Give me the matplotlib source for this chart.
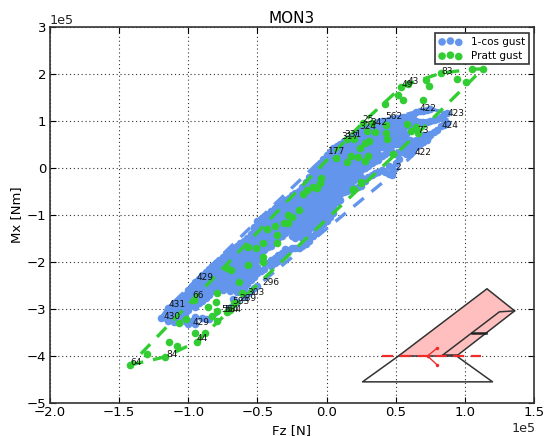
import matplotlib
matplotlib.use("Agg")
import matplotlib.pyplot as plt
from matplotlib.ticker import MultipleLocator

SCALE = 1e5
title = "MON3"
xlabel = "Fz [N]"
ylabel = "Mx [Nm]"
offset_label = "1e5"
series_names = ["1-cos gust", "Pratt gust"]

blue_columns = [
 (-1.20,[-3.2]),
 (-1.15,[-2.98,-3.13,-3.25]),
 (-1.10,[-2.88,-3.02,-3.16,-3.28]),
 (-1.05,[-2.8,-2.95,-3.08,-3.22]),
 (-1.00,[-2.6,-2.75,-2.9,-3.02,-3.32]),
 (-0.95,[-2.42,-2.56,-2.7,-2.84,-2.95,-3.18,-3.32]),
 (-0.90,[-2.28,-2.42,-2.56,-2.7,-2.82,-3.2]),
 (-0.85,[-2.15,-2.3,-2.44,-2.58,-2.7,-3.22]),
 (-0.80,[-2.02,-2.16,-2.3,-2.44,-2.58]),
 (-0.75,[-1.9,-2.04,-2.18,-2.32,-2.46,-2.6]),
 (-0.70,[-1.78,-1.92,-2.06,-2.2,-2.34,-2.48,-2.62]),
 (-0.65,[-1.66,-1.8,-1.94,-2.08,-2.22,-2.36,-2.5,-2.64,-2.85]),
 (-0.60,[-1.55,-1.69,-1.83,-1.97,-2.11,-2.25,-2.39,-2.55,-2.75]),
 (-0.55,[-1.4,-1.54,-1.68,-1.82,-1.96,-2.1,-2.24,-2.38,-2.62]),
 (-0.50,[-1.12,-1.26,-1.4,-1.54,-1.68,-1.82,-1.96,-2.1,-2.24,-2.5]),
 (-0.45,[-1.05,-1.19,-1.33,-1.47,-1.61,-1.75,-2.0,-2.15]),
 (-0.40,[-0.92,-1.06,-1.2,-1.34,-1.48,-1.65,-1.95,-2.08]),
 (-0.35,[-0.8,-0.94,-1.08,-1.22,-1.36,-1.5,-1.85,-1.98]),
 (-0.30,[-0.68,-0.82,-0.96,-1.1,-1.24,-1.38,-1.72,-1.85]),
 (-0.25,[-0.58,-0.72,-0.86,-1.0,-1.14,-1.28,-1.45,-1.7]),
 (-0.20,[-0.48,-0.62,-0.76,-0.9,-1.04,-1.18,-1.3,-1.7]),
 (-0.15,[-0.3,-0.44,-0.58,-0.72,-0.86,-1.0,-1.14,-1.25,-1.62]),
 (-0.10,[-0.1,-0.24,-0.38,-0.52,-0.66,-0.8,-0.92,-1.0,-1.45]),
 (-0.05,[0.1,-0.04,-0.18,-0.32,-0.46,-0.6,-0.74,-0.9,-1.3]),
 (0.00,[0.28,0.14,0.0,-0.14,-0.28,-0.42,-0.56,-0.75,-1.12]),
 (0.05,[0.42,0.28,0.14,0.0,-0.14,-0.28,-0.42,-0.55,-0.65,-0.95]),
 (0.10,[0.52,0.38,0.24,0.1,-0.04,-0.18,-0.32,-0.46,-0.55]),
 (0.15,[0.62,0.48,0.34,0.2,0.06,-0.08,-0.22,-0.36,-0.48]),
 (0.20,[0.72,0.58,0.44,0.3,0.16,0.02,-0.12,-0.26,-0.42]),
 (0.25,[0.8,0.66,0.52,0.38,0.24,0.1,-0.05,-0.2,-0.38]),
 (0.30,[0.88,0.74,0.6,0.46,0.32,0.18,0.05,-0.2]),
 (0.35,[0.95,0.81,0.67,0.53,0.39,0.27,0.15,-0.1]),
 (0.40,[1.0,0.86,0.72,0.58,0.44,0.25,-0.05]),
 (0.45,[1.02,0.88,0.74,0.6,0.46,0.35,0.05,-0.12]),
 (0.50,[1.06,0.92,0.78,0.64,0.5,0.3,0.1]),
 (0.55,[1.08,0.95,0.8,0.65,0.5,0.35]),
 (0.60,[1.08,0.92,0.6,0.45,0.3]),
 (0.65,[1.2,1.0,0.85,0.6,0.45]),
 (0.70,[1.22,0.98,0.7,0.55]),
 (0.75,[1.26,1.0,0.72]),
 (0.80,[1.05,0.8]),
 (0.85,[1.15,1.02,0.92]),
 (0.87,[1.17,0.96]),
]
blue_columns_between = [
 (-1.125,[-2.95,-3.09,-3.22]),
 (-1.075,[-2.85,-2.99,-3.12,-3.25]),
 (-1.025,[-2.7,-2.84,-2.97,-3.1]),
 (-0.975,[-2.5,-2.64,-2.78,-2.92,-3.25]),
 (-0.925,[-2.36,-2.5,-2.64,-2.78,-2.88]),
 (-0.875,[-2.22,-2.36,-2.5,-2.64,-2.76,-3.22]),
 (-0.825,[-2.08,-2.22,-2.36,-2.5,-2.62]),
 (-0.775,[-1.96,-2.1,-2.24,-2.38,-2.52]),
 (-0.725,[-1.84,-1.98,-2.12,-2.26,-2.4,-2.55]),
 (-0.675,[-1.72,-1.86,-2.0,-2.14,-2.28,-2.42,-2.56,-2.78]),
 (-0.625,[-1.6,-1.74,-1.88,-2.02,-2.16,-2.3,-2.44,-2.6]),
 (-0.575,[-1.48,-1.62,-1.76,-1.9,-2.04,-2.18,-2.32,-2.46,-2.68]),
 (-0.525,[-1.25,-1.34,-1.48,-1.62,-1.76,-1.9,-2.04,-2.18,-2.32,-2.55]),
 (-0.475,[-1.08,-1.22,-1.36,-1.5,-1.64,-1.78,-1.92,-2.2]),
 (-0.425,[-0.98,-1.12,-1.26,-1.4,-1.54,-1.68,-2.02]),
 (-0.375,[-0.86,-1.0,-1.14,-1.28,-1.42,-1.56,-1.92,-2.03]),
 (-0.325,[-0.74,-0.88,-1.02,-1.16,-1.3,-1.44,-1.8,-1.92]),
 (-0.275,[-0.63,-0.77,-0.91,-1.05,-1.19,-1.32,-1.75]),
 (-0.225,[-0.53,-0.67,-0.81,-0.95,-1.09,-1.23,-1.38,-1.7]),
 (-0.175,[-0.4,-0.54,-0.68,-0.82,-0.96,-1.1,-1.24,-1.66]),
 (-0.125,[-0.2,-0.34,-0.48,-0.62,-0.76,-0.9,-1.04,-1.18,-1.55]),
 (-0.075,[0.0,-0.12,-0.26,-0.4,-0.54,-0.68,-0.82,-0.96,-1.38]),
 (-0.025,[0.2,0.06,-0.08,-0.22,-0.36,-0.5,-0.64,-0.8,-1.2]),
 (0.025,[0.35,0.21,0.07,-0.07,-0.21,-0.35,-0.49,-0.65,-1.05]),
 (0.075,[0.47,0.33,0.19,0.05,-0.09,-0.23,-0.37,-0.5,-0.6]),
 (0.125,[0.57,0.43,0.29,0.15,0.01,-0.13,-0.27,-0.41,-0.52]),
 (0.175,[0.67,0.53,0.39,0.25,0.11,-0.03,-0.17,-0.31,-0.45]),
 (0.225,[0.76,0.62,0.48,0.34,0.2,0.06,-0.08,-0.22,-0.4]),
 (0.275,[0.84,0.7,0.56,0.42,0.28,0.14,0.0,-0.28]),
 (0.325,[0.92,0.78,0.64,0.5,0.36,0.22,0.1,-0.15]),
 (0.375,[0.98,0.84,0.7,0.56,0.42,0.3,0.18,-0.08]),
 (0.425,[1.01,0.87,0.73,0.59,0.45,0.3,-0.08]),
 (0.475,[1.04,0.9,0.76,0.62,0.48,0.33,0.0,-0.14]),
 (0.525,[1.07,0.93,0.79,0.65,0.5,0.35,0.2]),
 (0.575,[1.08,0.9,0.72,0.57,0.42,0.3]),
 (0.625,[1.12,0.96,0.55,0.4]),
 (0.675,[1.22,0.98,0.65,0.5]),
 (0.725,[1.24,0.98,0.7,0.6]),
 (0.775,[1.02,0.76]),
 (0.825,[1.08,0.9]),
]
blue_columns_lower = [
 (-0.225,[-1.38,-1.48]),
 (-0.20,[-1.42]),
 (-0.175,[-1.38,-1.5]),
 (-0.15,[-1.38,-1.5]),
 (-0.125,[-1.3,-1.42]),
 (-0.10,[-1.14,-1.26]),
 (-0.075,[-1.1,-1.24]),
 (-0.05,[-1.04,-1.17]),
 (-0.025,[-0.94,-1.06]),
 (0.00,[-0.88,-1.0]),
 (0.025,[-0.78,-0.92]),
 (0.05,[-0.78,-0.88]),
 (0.075,[-0.72]),
 (0.10,[-0.68]),
]
green_fz = [1.13,1.05,0.83,0.94,1.01,0.72,0.74,0.59,0.54,0.52,0.55,0.70,0.42,0.43,0.58,0.65,0.61,0.66,
 0.43,0.44,0.35,0.29,0.26,0.33,0.15,0.20,0.28,0.31,0.24,0.18,0.23,0.30,0.28,0.15,0.48,0.07,0.25,0.19,
 -0.04,-0.05,-0.10,-0.14,-0.17,-0.07,0.19,0.25,-0.20,-0.28,-0.25,-0.31,-0.28,-0.37,-0.43,-0.36,-0.36,
 -0.46,-0.57,-0.51,-0.46,-0.46,-0.57,-0.72,-0.69,-0.63,-0.79,-0.61,-0.80,-0.86,-0.96,-0.72,-0.79,-0.83,
 -0.79,-1.02,-1.07,-0.88,-0.95,-0.94,-1.14,-1.08,-1.30,-1.17,-1.42,-0.67,-0.70]
green_mx = [2.11,2.10,2.02,1.90,1.83,1.87,1.74,1.79,1.72,1.55,1.45,1.45,1.36,0.91,0.94,0.87,0.79,0.74,
 0.74,0.62,0.77,0.79,0.96,0.96,0.62,0.62,0.53,0.57,0.43,0.26,0.23,0.26,0.15,0.13,0.30,0.21,-0.32,-0.47,
 -0.21,-0.32,-0.40,-0.47,-0.55,-0.43,-0.45,-0.30,-0.89,-1.00,-1.04,-1.17,-1.17,-1.23,-1.30,-1.43,-1.60,
 -1.60,-1.68,-1.70,-1.89,-2.00,-2.06,-2.13,-2.17,-2.43,-2.66,-2.66,-2.85,-2.96,-2.81,-3.06,-3.04,-3.15,
 -3.26,-3.21,-3.30,-3.51,-3.51,-3.70,-3.70,-3.79,-3.96,-4.02,-4.19,-2.87,-3.02]

label_text = ["83","43","49","422","423","424","73","422","2","562","25","324","342","331","317","177",
 "429","66","431","430","429","44","84","64","296","303","289","583","564","584"]
label_fz = [0.87,0.63,0.58,0.73,0.94,0.89,0.70,0.70,0.52,0.49,0.30,0.30,0.38,0.19,0.17,0.07,
 -0.88,-0.93,-1.08,-1.12,-0.91,-0.90,-1.12,-1.38,-0.40,-0.51,-0.57,-0.62,-0.70,-0.68]
label_mx = [2.06,1.83,1.77,1.26,1.17,0.91,0.79,0.34,0.02,1.09,1.04,0.89,0.96,0.72,0.66,0.36,
 -2.34,-2.72,-2.91,-3.17,-3.28,-3.62,-3.96,-4.13,-2.43,-2.64,-2.77,-2.85,-3.00,-3.02]

wing_fz = [0.52,1.16,1.36,0.94,0.52]
wing_mx = [-4.0,-2.57,-3.04,-4.0,-4.0]
flap_fz = [0.84,1.25,1.36]
flap_mx = [-3.98,-3.06,-3.04]
flap_root_fz = [0.84,0.94]
flap_root_mx = [-3.98,-3.98]
hinge_fz = [1.05,1.15]
hinge_mx = [-3.51,-3.51]
tail_fz = [0.52,0.26,1.20,0.94]
tail_mx = [-4.0,-4.55,-4.55,-4.0]
axis_fz = [0.40,1.12]
axis_mx = [-4.0,-4.0]
arrow_fz = [0.80,0.73,0.80]
arrow_mx = [-3.83,-4.0,-4.19]


def hull(points):
    pts = sorted(set(points))
    def half(seq):
        out = []
        for p in seq:
            while len(out) > 1 and ((out[-1][0]-out[-2][0])*(p[1]-out[-2][1])
                                    - (out[-1][1]-out[-2][1])*(p[0]-out[-2][0])) <= 0:
                out.pop()
            out.append(p)
        return out[:-1]
    h = half(pts) + half(pts[::-1])
    return h + h[:1]


all_columns = blue_columns + blue_columns_between + blue_columns_lower
blue_fz = [x for x, rows in all_columns for _ in rows]
blue_mx = [y for _, rows in all_columns for y in rows]

BLUE = "#6495ED"
GREEN = "#32CD32"
S = lambda v: [a * SCALE for a in v]

fig = plt.figure(figsize=(5.46, 4.36), dpi=100)
ax = fig.add_axes([50/546, 1-403/436, 484/546, 376/436])

ax.scatter(S(blue_fz), S(blue_mx), s=30, c=BLUE, linewidths=0, zorder=3, label=series_names[0])
bh = hull(list(zip(blue_fz, blue_mx)))
ax.plot(S([p[0] for p in bh]), S([p[1] for p in bh]), color=BLUE, lw=2.4, ls=(0, (4, 3)), zorder=3)
ax.scatter(S(green_fz), S(green_mx), s=30, c=GREEN, linewidths=0, zorder=4, label=series_names[1])
gh = hull(list(zip(green_fz, green_mx)))
ax.plot(S([p[0] for p in gh]), S([p[1] for p in gh]), color=GREEN, lw=2.4, ls=(0, (4, 3)), zorder=4)

for t, x, y in zip(label_text, label_fz, label_mx):
    ax.text(x*SCALE, y*SCALE, t, fontsize=6.5, ha="center", va="center", color="#111111", zorder=5)

ax.fill(S(wing_fz), S(wing_mx), facecolor="#FFBFBF", edgecolor="#333333", lw=1.1, zorder=6)
ax.plot(S(flap_fz), S(flap_mx), color="#333333", lw=1.1, zorder=7)
ax.plot(S(flap_root_fz), S(flap_root_mx), color="#333333", lw=1.1, zorder=7)
ax.plot(S(hinge_fz), S(hinge_mx), color="#222222", lw=1.8, zorder=7)
ax.plot(S(tail_fz), S(tail_mx), color="#333333", lw=1.1, zorder=6)
ax.plot(S(axis_fz), S(axis_mx), color="#EE2C2C", lw=1.6, ls=(0, (5, 3)), zorder=8)
ax.plot(S(arrow_fz[:2]), S(arrow_mx[:2]), color="#EE2C2C", lw=1.0, marker=".", ms=3, zorder=8)
ax.plot(S(arrow_fz[1:]), S(arrow_mx[1:]), color="#EE2C2C", lw=1.0, marker=".", ms=3, zorder=8)

ax.set_xlim(-2e5, 1.5e5)
ax.set_ylim(-5e5, 3e5)
ax.xaxis.set_major_locator(MultipleLocator(0.5e5))
ax.yaxis.set_major_locator(MultipleLocator(1e5))
ax.ticklabel_format(style="sci", scilimits=(0, 0))
ax.grid(True, color="#333333", ls=(0, (1, 2.5)), lw=0.8)
ax.set_axisbelow(True)
ax.tick_params(direction="in", top=True, right=True, length=4, width=0.8, labelsize=9.5, pad=2.5)
ax.xaxis.get_offset_text().set_visible(False)
ax.yaxis.get_offset_text().set_visible(False)
fig.text(50/546, 1-20/436, offset_label, fontsize=9.2, ha="left", va="center", color="#222222")
fig.text(536/546, 1-428/436, offset_label, fontsize=9.2, ha="right", va="center", color="#222222")
for sp in ax.spines.values():
    sp.set_linewidth(1.2)
    sp.set_color("#333333")
    sp.set_zorder(10)
ax.set_title(title, fontsize=11, pad=3)
ax.set_xlabel(xlabel, fontsize=9.5, labelpad=3)
ax.set_ylabel(ylabel, fontsize=9.5, labelpad=3)

leg = ax.legend(loc="upper right", scatterpoints=3, fontsize=7.5, fancybox=False, framealpha=1,
                edgecolor="#333333", borderpad=0.35, labelspacing=0.4, handletextpad=0.9,
                handlelength=2.2, bbox_to_anchor=(0.9897, 0.984), borderaxespad=0)
leg.get_frame().set_linewidth(1.2)
leg.set_zorder(9)

fig.savefig("out.png", dpi=100)
